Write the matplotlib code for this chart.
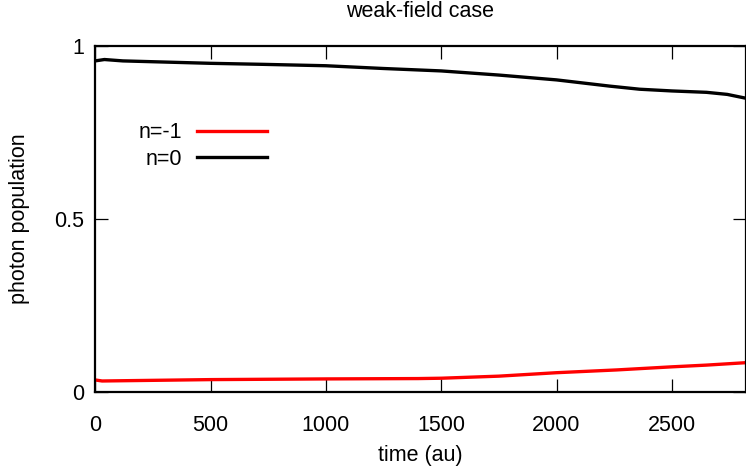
import matplotlib
matplotlib.use("Agg")
import matplotlib.pyplot as plt

plt.rcParams['font.family'] = ['Liberation Sans', 'DejaVu Sans']

time_n0 = [0, 40, 120, 500, 730, 1000, 1250, 1500, 1750, 2000, 2230, 2360, 2500, 2650, 2740, 2820]
n0 = [0.958, 0.962, 0.958, 0.951, 0.948, 0.944, 0.936, 0.929, 0.917, 0.903, 0.885, 0.876, 0.871, 0.867, 0.861, 0.850]
time_nm1 = [0, 30, 500, 1000, 1400, 1500, 1750, 2000, 2260, 2500, 2650, 2820]
nm1 = [0.034, 0.031, 0.035, 0.037, 0.038, 0.039, 0.045, 0.055, 0.063, 0.072, 0.077, 0.084]

xticks = [0, 500, 1000, 1500, 2000, 2500]
yticks = [0, 0.5, 1]
yticklabels = ['0', '0.5', '1']

FS = 15.5
fig = plt.figure(figsize=(7.46, 4.73), dpi=100)
ax = fig.add_axes([0.1276, 0.1719, 0.8720, 0.7300])

ax.plot(time_nm1, nm1, color='#ff0000', lw=2.4, label='n=-1')
ax.plot(time_n0, n0, color='black', lw=2.4, label='n=0')

ax.set_xlim(0, 2820)
ax.set_ylim(0, 1)
ax.set_xticks(xticks)
ax.set_yticks(yticks)
ax.set_yticklabels(yticklabels)
ax.tick_params(direction='in', length=9.5, width=0.9, top=True, right=True,
               labelsize=FS)
ax.tick_params(axis='x', pad=16.5)
ax.tick_params(axis='y', pad=8)
for s in ax.spines.values():
    s.set_linewidth(1.6)

ax.set_xlabel('time (au)', fontsize=FS, labelpad=7)
ax.set_ylabel('photon population', fontsize=FS, labelpad=17)
ax.set_title('weak-field case', fontsize=FS, pad=21)

leg = ax.legend(loc='center right', bbox_to_anchor=(0.264, 0.712), markerfirst=False,
                frameon=False, fontsize=FS, handlelength=3.25, handletextpad=0.7,
                labelspacing=0.26, borderpad=0, borderaxespad=0)

fig.savefig('out.png', dpi=100)
